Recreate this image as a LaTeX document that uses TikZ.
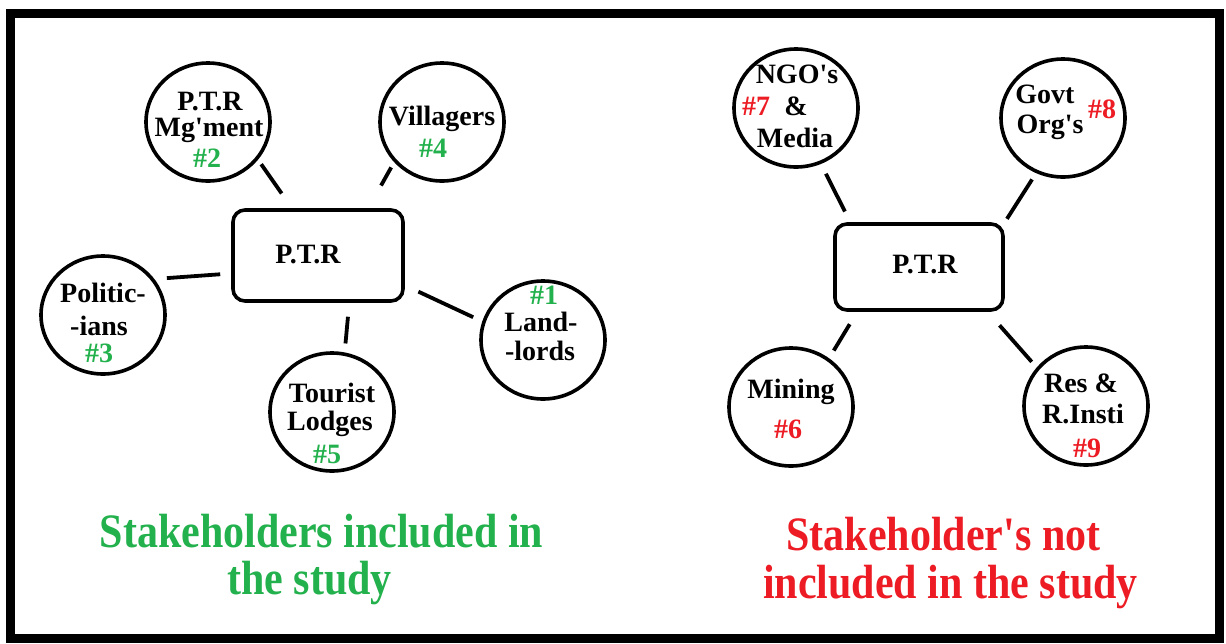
\documentclass[tikz,border=0pt]{standalone}
\usepackage{fontspec}
\setmainfont{Liberation Serif}
\usetikzlibrary{shapes.geometric,calc}
\definecolor{pgreen}{HTML}{22B14C}
\definecolor{pred}{HTML}{ED1C24}
\newcommand{\apq}{\textquotesingle}
\begin{document}
\begin{tikzpicture}[x=1pt,y=-1pt,
  stk/.style={draw, ellipse, line width=3.6pt, minimum width=124pt, minimum height=118pt, inner sep=0pt},
  hub/.style={draw, rectangle, rounded corners=12pt, line width=3.6pt, minimum width=170pt, minimum height=91pt, inner sep=0pt},
  conn/.style={line width=3.8pt},
  lbl/.style={font=\fontsize{28}{30}\selectfont\bfseries, inner sep=0pt, anchor=base},
  gnum/.style={lbl, text=pgreen},
  rnum/.style={lbl, text=pred},
  title/.style={font=\fontsize{48}{50}\selectfont\bfseries, inner sep=0pt, anchor=base}
]
\useasboundingbox (0,0) rectangle (1226,643);
\fill[white] (0,0) rectangle (1226,643);
\draw[line width=9pt] (10.5,13.5) rectangle (1219,638.5);

% ---------- left diagram ----------
\node[hub] (pl) at (318,255.5) {};
\node[lbl] (pl-t) at (308,263) {P.T.R};

\node[stk] (mg) at (208,122) {};
\node[lbl] (mg-t1) at (210,110) {P.T.R};
\node[lbl] (mg-t2) at (209,136) {Mg\apq ment};
\node[gnum] (mg-n) at (207,167) {\#2};

\node[stk] (vil) at (442,122) {};
\node[lbl] (vil-t) at (442,125) {Villagers};
\node[gnum] (vil-n) at (433,157) {\#4};

\node[stk] (pol) at (103,315) {};
\node[lbl] (pol-t1) at (103,302) {Politic-};
\node[lbl] (pol-t2) at (99,335) {-ians};
\node[gnum] (pol-n) at (99,362) {\#3};

\node[stk] (ll) at (543,340) {};
\node[gnum] (ll-n) at (544,304) {\#1};
\node[lbl] (ll-t1) at (541,331) {Land-};
\node[lbl] (ll-t2) at (540,360) {-lords};

\node[stk] (tl) at (332,412) {};
\node[lbl] (tl-t1) at (332,402) {Tourist};
\node[lbl] (tl-t2) at (330,430) {Lodges};
\node[gnum] (tl-n) at (327,463) {\#5};

\draw[conn, shorten <=5.5pt, shorten >=18pt] (mg.-37) -- ($(pl.north west)!0.35!(pl.north east)$);
\draw[conn, shorten <=6pt, shorten >=26pt] (vil.-140) -- ($(pl.north west)!0.79!(pl.north east)$);
\draw[conn, shorten <=12.5pt, shorten >=11pt] (pol.35) -- ($(pl.north west)!0.69!(pl.south west)$);
\draw[conn, shorten <=15pt, shorten >=10pt] ($(pl.north east)!0.815!(pl.south east)$) -- (ll.163);
\draw[conn, shorten <=14pt, shorten >=9pt] ($(pl.south west)!0.68!(pl.south east)$) -- (tl.78);

% ---------- right diagram ----------
\node[hub, minimum width=168pt, minimum height=86pt] (pr) at (919,267) {};
\node[lbl] (pr-t) at (925,273) {P.T.R};

\node[stk] (ngo) at (796,108) {};
\node[lbl] (ngo-t1) at (797,83) {NGO\apq s};
\node[rnum] (ngo-n) at (756,115) {\#7};
\node[lbl] (ngo-t2) at (796,115) {\&};
\node[lbl] (ngo-t3) at (795,147) {Media};

\node[stk] (gov) at (1063,118) {};
\node[lbl] (gov-t1) at (1045,103) {Govt};
\node[lbl] (gov-t2) at (1050,133) {Org\apq s};
\node[rnum] (gov-n) at (1102,118) {\#8};

\node[stk] (min) at (791,407) {};
\node[lbl] (min-t) at (791,398) {Mining};
\node[rnum] (min-n) at (788,438) {\#6};

\node[stk] (res) at (1086,406) {};
\node[lbl] (res-t1) at (1081,392) {Res \&};
\node[lbl] (res-t2) at (1083,423) {R.Insti};
\node[rnum] (res-n) at (1087,457) {\#9};

\draw[conn, shorten <=11pt, shorten >=12pt] (ngo.-66) -- ($(pr.north west)!0.1!(pr.north east)$);
\draw[conn, shorten <=7.5pt, shorten >=4pt] (gov.-116) -- (pr.north east);
\draw[conn, shorten <=14.5pt, shorten >=9pt] ($(pr.south west)!0.14!(pr.south east)$) -- (min.52);
\draw[conn, shorten <=18pt, shorten >=7.5pt] ($(pr.south west)!0.9!(pr.south east)$) -- (res.142);

% ---------- captions ----------
\node[title, text=pgreen] (cap-l1) at (321.5,547) {\scalebox{0.875}[1]{Stakeholders included in}};
\node[title, text=pgreen] (cap-l2) at (309.5,594) {\scalebox{0.875}[1]{the study}};
\node[title, text=pred] (cap-r1) at (943.5,550) {\scalebox{0.875}[1]{Stakeholder\apq s not}};
\node[title, text=pred] (cap-r2) at (950.5,598) {\scalebox{0.875}[1]{included in the study}};
\end{tikzpicture}
\end{document}
